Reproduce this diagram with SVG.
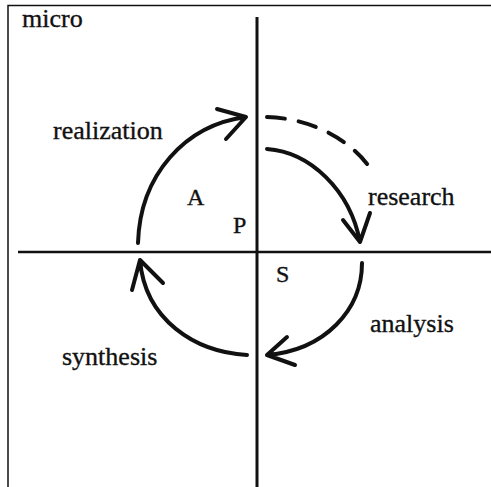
<svg xmlns="http://www.w3.org/2000/svg" width="491" height="487" viewBox="0 0 491 487">
<style>
.t{font-family:"Liberation Serif","DejaVu Serif","Times New Roman",serif;font-size:26px;fill:#111;stroke:#111;stroke-width:0.35}
.s{font-family:"Liberation Serif","DejaVu Serif","Times New Roman",serif;font-size:24px;fill:#111;stroke:#111;stroke-width:0.35}
.ax{stroke:#111;fill:none}
.arc{stroke:#111;stroke-width:4;fill:none;stroke-linecap:round;stroke-linejoin:round}
</style>
<rect width="491" height="487" fill="#fff"/>
<g id="frame">
<path class="ax" stroke-width="1.5" d="M8,487 V5.5 H491"/>
<path class="ax" stroke-width="3" d="M257,17 V487"/>
<path class="ax" stroke-width="2.5" d="M18,252 H491"/>
</g>
<g id="label-micro"><text class="t" x="22" y="27">micro</text></g>
<g id="label-realization"><text class="t" x="53" y="139">realization</text></g>
<g id="label-research"><text class="t" x="368" y="205">research</text></g>
<g id="label-analysis"><text class="t" x="370" y="332">analysis</text></g>
<g id="label-synthesis"><text class="t" x="62" y="365">synthesis</text></g>
<g id="label-A"><text class="s" x="187" y="205">A</text></g>
<g id="label-P"><text class="s" x="233" y="233">P</text></g>
<g id="label-S"><text class="s" x="276" y="282">S</text></g>
<g id="connectors">
<path class="arc" d="M138,243 C140,175 185,125 246,117 M217,109 L246,117 L226,139"/>
<path class="arc" stroke-linecap="butt" stroke-dasharray="18,14" d="M267,117 C305,118 350,135 375,175"/>
<path class="arc" d="M267,149 C310,152 350,190 360,242 M343,220 L360,242 L370,213"/>
<path class="arc" d="M362,263 C362,310 325,350 267,355 M287,337 L267,355 L295,365"/>
<path class="arc" d="M247,355 C195,352 145,320 140,260 M132,290 L140,260 L163,283"/>
</g>
</svg>
